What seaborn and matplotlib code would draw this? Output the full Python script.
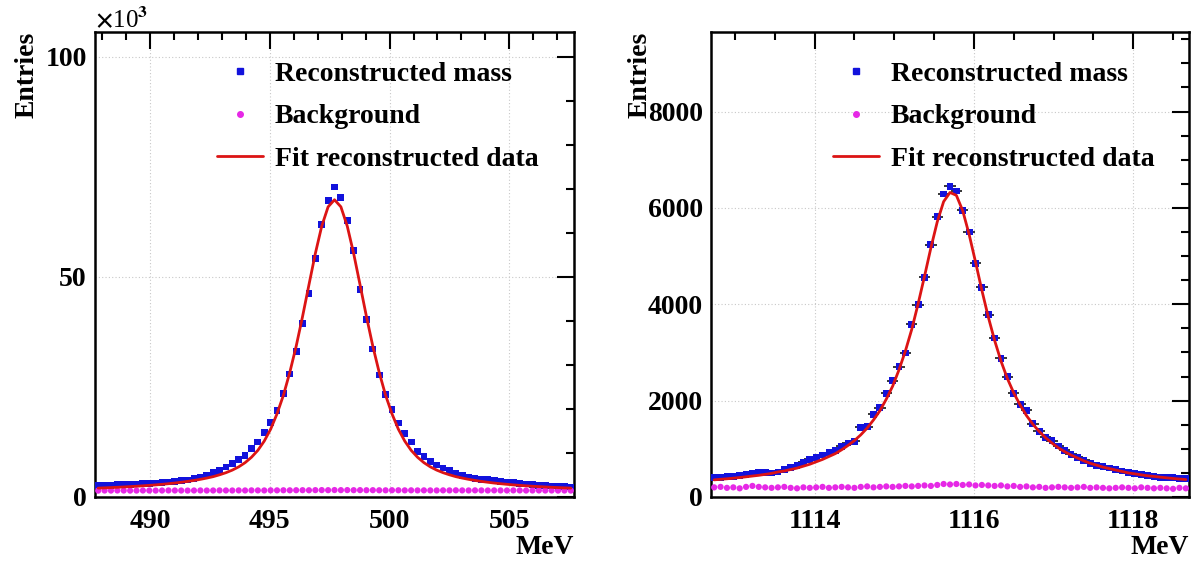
import numpy as np
import pandas as pd
import matplotlib
matplotlib.use("Agg")
import matplotlib.pyplot as plt
from matplotlib.lines import Line2D
from matplotlib.ticker import MultipleLocator, FormatStrFormatter
import seaborn as sns

# ---------------- data ----------------
# K0s candidate: 75 bins over 487.7 - 507.7 MeV (counts in thousands)
k0_range = (487.7, 507.7)
k0_signal_k = [
    2.60, 2.65, 2.70, 2.76, 2.82, 2.88, 2.95, 3.02, 3.10, 3.18, 3.28, 3.40, 3.55, 3.70, 3.85,
    4.15, 4.55, 5.00, 5.50, 6.10, 6.80, 7.56, 8.46, 9.44, 10.96, 12.47, 14.58, 16.85, 19.64, 23.57,
    27.95, 33.0, 39.4, 46.2, 54.2, 61.9, 67.4, 70.4, 68.0, 62.8, 55.9, 47.1, 40.3, 33.6, 27.7,
    23.2, 19.8, 16.8, 14.5, 12.5, 10.4, 9.2, 8.08, 7.25, 6.57, 6.04, 5.44, 4.91, 4.53, 4.16,
    4.05, 3.92, 3.78, 3.60, 3.42, 3.25, 3.05, 2.95, 2.82, 2.70, 2.60, 2.52, 2.45, 2.35, 2.25,
]
k0_background_k = [
    1.45, 1.47, 1.46, 1.48, 1.47, 1.45, 1.46, 1.48, 1.47, 1.46, 1.47, 1.49, 1.48, 1.47, 1.46,
    1.48, 1.49, 1.47, 1.48, 1.50, 1.49, 1.48, 1.50, 1.49, 1.51, 1.50, 1.49, 1.52, 1.51, 1.53,
    1.52, 1.54, 1.55, 1.53, 1.56, 1.57, 1.55, 1.58, 1.56, 1.57, 1.55, 1.56, 1.54, 1.55, 1.53,
    1.52, 1.54, 1.53, 1.51, 1.52, 1.50, 1.51, 1.50, 1.49, 1.51, 1.50, 1.52, 1.50, 1.49, 1.51,
    1.50, 1.48, 1.50, 1.49, 1.48, 1.50, 1.49, 1.47, 1.48, 1.49, 1.47, 1.48, 1.46, 1.47, 1.46,
]
k0_fit_k = [
    2.02, 2.08, 2.14, 2.21, 2.28, 2.36, 2.44, 2.54, 2.64, 2.75, 2.88, 3.02, 3.17, 3.35, 3.54,
    3.76, 4.01, 4.30, 4.62, 5.04, 5.52, 6.11, 6.85, 7.80, 9.03, 10.6, 12.7, 15.4, 18.9, 23.1,
    28.3, 34.25, 41.0, 48.2, 55.3, 61.5, 65.9, 67.5, 65.9, 61.5, 55.3, 48.2, 41.0, 34.25, 28.3,
    23.1, 18.9, 15.4, 12.7, 10.6, 9.03, 7.80, 6.85, 6.11, 5.52, 5.04, 4.62, 4.30, 4.01, 3.76,
    3.54, 3.35, 3.17, 3.02, 2.88, 2.75, 2.64, 2.54, 2.44, 2.36, 2.28, 2.21, 2.14, 2.08, 2.02,
]

# Lambda candidate: 75 bins over 1112.7 - 1118.7 MeV (counts)
lam_range = (1112.7, 1118.7)
lam_signal = [
    400, 410, 420, 430, 450, 470, 490, 520, 510, 500, 520, 570, 620, 650, 720,
    780, 820, 870, 920, 970, 1050, 1120, 1160, 1450, 1460, 1720, 1850, 2150, 2410, 2700,
    2990, 3580, 3990, 4560, 5240, 5820, 6290, 6450, 6350, 5950, 5500, 4850, 4350, 3780, 3300,
    2880, 2500, 2150, 1920, 1800, 1520, 1360, 1240, 1170, 1060, 970, 890, 820, 760, 700,
    660, 630, 600, 570, 540, 510, 490, 460, 440, 420, 410, 400, 400, 390, 380,
]
lam_background = [
    200, 210, 190, 200, 180, 210, 230, 210, 200, 190, 200, 210, 190, 180, 200,
    190, 200, 210, 190, 200, 210, 200, 190, 210, 220, 200, 210, 220, 210, 220,
    230, 220, 230, 240, 230, 250, 270, 260, 270, 250, 260, 240, 250, 240, 230,
    240, 220, 230, 210, 220, 200, 210, 190, 200, 210, 200, 190, 200, 210, 190,
    200, 190, 180, 190, 200, 190, 180, 200, 190, 180, 190, 180, 170, 190, 180,
]
lam_fit = [
    356, 367, 378, 391, 404, 419, 435, 450, 470, 490, 520, 540, 570, 600, 640,
    680, 730, 780, 840, 900, 980, 1070, 1170, 1290, 1430, 1600, 1790, 2030, 2300, 2640,
    3030, 3480, 4010, 4580, 5170, 5710, 6130, 6320, 6260, 5940, 5450, 4880, 4290, 3740, 3250,
    2820, 2460, 2160, 1910, 1690, 1510, 1360, 1230, 1120, 1020, 940, 870, 810, 750, 700,
    660, 620, 590, 560, 530, 500, 480, 460, 440, 427, 412, 398, 385, 373, 362,
]

legend_labels = ["Reconstructed mass", "Background", "Fit reconstructed data"]

# ---------------- style ----------------
sns.set_theme(style="white")
plt.rcParams["font.family"] = ["Liberation Serif", "DejaVu Serif"]
plt.rcParams["font.weight"] = "bold"
plt.rcParams["mathtext.fontset"] = "stix"
for key in ("text.color", "axes.labelcolor", "xtick.color", "ytick.color",
            "xtick.labelcolor", "ytick.labelcolor"):
    plt.rcParams[key] = "black"

C_SIG = "#1212dc"
C_BKG = "#e628e6"
C_FIT = "#dc1414"
FS = 20


def bin_centers(rng, n):
    edges = np.linspace(rng[0], rng[1], n + 1)
    return 0.5 * (edges[:-1] + edges[1:])


def style_axes(ax, xlim, ylim, xmaj, xmin, ymaj, ymin):
    ax.set_xlim(*xlim)
    ax.set_ylim(*ylim)
    ax.xaxis.set_major_locator(MultipleLocator(xmaj))
    ax.xaxis.set_minor_locator(MultipleLocator(xmin))
    ax.yaxis.set_major_locator(MultipleLocator(ymaj))
    ax.yaxis.set_minor_locator(MultipleLocator(ymin))
    ax.xaxis.set_major_formatter(FormatStrFormatter("%g"))
    ax.yaxis.set_major_formatter(FormatStrFormatter("%g"))
    ax.tick_params(which="both", direction="in", top=True, right=True,
                   width=1.5, color="black", labelcolor="black")
    ax.tick_params(which="major", length=12)
    ax.tick_params(which="minor", length=6)
    ax.tick_params(axis="x", which="major", labelsize=FS, pad=9)
    ax.tick_params(axis="y", which="major", labelsize=FS, pad=6)
    for lab in ax.get_xticklabels() + ax.get_yticklabels():
        lab.set_fontweight("bold")
    for sp in ax.spines.values():
        sp.set_linewidth(1.8)
        sp.set_color("black")
    ax.grid(True, which="major", color="#c8c8c8", linestyle=(0, (1, 2)), linewidth=0.8)
    ax.set_axisbelow(True)
    ax.set_ylabel("Entries", fontsize=FS, fontweight="bold", loc="top", color="black")
    ax.set_xlabel("MeV", fontsize=FS, fontweight="bold", loc="right", color="black")


def add_legend(ax):
    handles = [
        Line2D([], [], marker="s", linestyle="none", color=C_SIG, markersize=4.5),
        Line2D([], [], marker="o", linestyle="none", color=C_BKG, markersize=4),
        Line2D([], [], color=C_FIT, linewidth=2),
    ]
    leg = ax.legend(handles, legend_labels, loc="upper left",
                    bbox_to_anchor=(0.255, 0.937), frameon=False,
                    borderpad=0, borderaxespad=0, handlelength=1.65,
                    handletextpad=0.43, labelspacing=0.62,
                    prop={"size": FS, "weight": "bold"})
    for t in leg.get_texts():
        t.set_color("black")
    return leg


fig = plt.figure(figsize=(11.91, 5.65), dpi=100)
ax1 = fig.add_axes([95 / 1191, 1 - 497 / 565, 479 / 1191, 465 / 565])
ax2 = fig.add_axes([711 / 1191, 1 - 497 / 565, 478 / 1191, 465 / 565])

# ---- left: K0s ----
x1 = bin_centers(k0_range, len(k0_signal_k))
df1 = pd.DataFrame({"mass": x1, "signal": k0_signal_k,
                    "background": k0_background_k, "fit": k0_fit_k})
sns.scatterplot(data=df1, x="mass", y="signal", ax=ax1, marker="s", s=24,
                color=C_SIG, edgecolor="none", linewidth=0, zorder=3)
sns.scatterplot(data=df1, x="mass", y="background", ax=ax1, marker="o", s=20,
                color=C_BKG, edgecolor="none", linewidth=0, zorder=4)
sns.lineplot(data=df1, x="mass", y="fit", ax=ax1, color=C_FIT, linewidth=2,
             estimator=None, zorder=5)
style_axes(ax1, k0_range, (0, 105.6), 5, 1, 50, 10)
ax1.yaxis.set_label_coords(-0.115, 1.0)
ax1.xaxis.set_label_coords(1.0, -0.082)
ax1.text(0.0, 0.998, r"$\times$10$^{3}$", transform=ax1.transAxes,
         fontsize=18, fontweight="normal", ha="left", va="bottom", color="black")
add_legend(ax1)

# ---- right: Lambda ----
x2 = bin_centers(lam_range, len(lam_signal))
bw2 = (lam_range[1] - lam_range[0]) / len(lam_signal)
df2 = pd.DataFrame({"mass": x2, "signal": lam_signal,
                    "background": lam_background, "fit": lam_fit})
ax2.errorbar(df2["mass"], df2["signal"], xerr=0.9 * bw2, fmt="none",
             ecolor="black", elinewidth=1.1, zorder=2)
sns.scatterplot(data=df2, x="mass", y="signal", ax=ax2, marker="s", s=24,
                color=C_SIG, edgecolor="none", linewidth=0, zorder=3)
sns.scatterplot(data=df2, x="mass", y="background", ax=ax2, marker="o", s=20,
                color=C_BKG, edgecolor="none", linewidth=0, zorder=4)
sns.lineplot(data=df2, x="mass", y="fit", ax=ax2, color=C_FIT, linewidth=2,
             estimator=None, zorder=5)
style_axes(ax2, lam_range, (0, 9650), 2, 0.5, 2000, 500)
ax2.yaxis.set_label_coords(-0.123, 1.0)
ax2.xaxis.set_label_coords(1.0, -0.082)
add_legend(ax2)

fig.savefig("out.png", dpi=100)
